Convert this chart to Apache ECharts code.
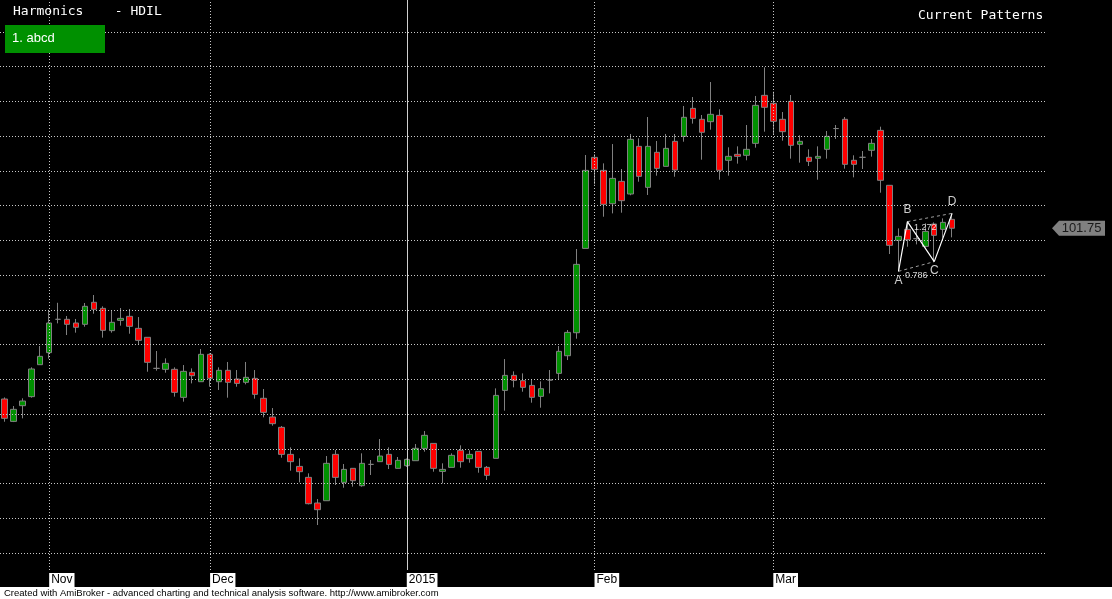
<!DOCTYPE html>
<html>
<head>
<meta charset="utf-8">
<script src="https://cdn.jsdelivr.net/npm/echarts@6/dist/echarts.min.js"></script>
<style>
html,body{margin:0;padding:0;background:#000;}
#chart{width:1112px;height:599px;}
</style>
</head>
<body>
<div id="chart"></div>
<script>
// ---------- data ----------
const dates = [
 '2014-10-27','2014-10-28','2014-10-29','2014-10-30','2014-10-31',
 '2014-11-03','2014-11-05','2014-11-07','2014-11-10','2014-11-11','2014-11-12','2014-11-13','2014-11-14','2014-11-17','2014-11-18','2014-11-19','2014-11-20','2014-11-21','2014-11-24','2014-11-25','2014-11-26','2014-11-27','2014-11-28',
 '2014-12-01','2014-12-02','2014-12-03','2014-12-04','2014-12-05','2014-12-08','2014-12-09','2014-12-10','2014-12-11','2014-12-12','2014-12-15','2014-12-16','2014-12-17','2014-12-18','2014-12-19','2014-12-22','2014-12-23','2014-12-24','2014-12-26','2014-12-29','2014-12-30','2014-12-31',
 '2015-01-01','2015-01-02','2015-01-05','2015-01-06','2015-01-07','2015-01-08','2015-01-09','2015-01-12','2015-01-13','2015-01-14','2015-01-15','2015-01-16','2015-01-19','2015-01-20','2015-01-21','2015-01-22','2015-01-23','2015-01-27','2015-01-28','2015-01-29','2015-01-30',
 '2015-02-02','2015-02-03','2015-02-04','2015-02-05','2015-02-06','2015-02-09','2015-02-10','2015-02-11','2015-02-12','2015-02-13','2015-02-16','2015-02-18','2015-02-19','2015-02-20','2015-02-23','2015-02-24','2015-02-25','2015-02-26','2015-02-27','2015-02-28',
 '2015-03-02','2015-03-03','2015-03-04','2015-03-05','2015-03-09','2015-03-10','2015-03-11','2015-03-12','2015-03-13','2015-03-16','2015-03-17','2015-03-18','2015-03-19','2015-03-20','2015-03-23','2015-03-24','2015-03-25','2015-03-26','2015-03-27','2015-03-30','2015-03-31'
];
const opens = [
 77.17,73.95,76.21,77.51,82.11,83.84,88.64,88.64,88.11,87.92,
 91.09,90.22,87.01,88.49,89.07,87.34,86.05,81.58,81.44,81.44,
 77.41,81.01,79.66,83.60,79.66,81.30,80.05,79.57,80.14,77.27,
 74.58,73.09,69.20,67.47,65.89,62.20,62.53,69.20,65.17,67.19,
 64.69,67.76,68.15,69.20,67.19,67.57,68.29,70.06,70.78,66.75,
 67.33,69.78,68.58,69.63,67.33,68.63,78.41,80.57,79.81,79.13,
 77.55,79.90,80.86,83.40,86.71,98.85,111.95,110.08,105.28,108.50,
 106.68,113.54,107.64,112.68,110.66,114.26,114.98,119.01,117.43,117.09,
 118.00,111.53,112.39,112.25,113.97,120.88,119.73,117.43,120.02,113.83,
 111.96,111.82,113.11,116.10,117.43,111.53,111.96,112.97,115.84,107.93,
 100.01,101.59,100.25,99.14,102.36,101.59,103.03
];
const closes = [
 74.39,75.68,76.88,81.49,83.31,88.11,88.64,87.92,87.49,90.51,
 90.08,87.05,88.21,88.78,87.63,85.61,82.45,81.58,82.30,78.13,
 81.15,80.53,83.60,80.14,81.30,79.57,79.42,80.29,77.84,75.25,
 73.62,69.20,68.15,66.71,62.10,61.24,67.91,65.89,67.04,65.41,
 67.91,67.76,68.96,67.76,68.34,68.48,70.07,71.94,67.19,67.04,
 69.06,68.15,69.20,67.33,66.18,77.69,80.57,79.85,78.85,77.41,
 78.65,79.90,84.03,86.76,96.55,110.08,110.23,105.19,108.93,105.72,
 114.55,109.22,113.54,110.37,113.25,110.13,117.72,117.57,115.56,118.15,
 110.09,112.10,112.10,113.11,119.44,119.16,117.14,115.65,113.69,114.26,
 111.38,112.10,114.98,116.10,110.95,110.95,111.96,113.97,108.65,99.29,
 100.58,100.10,100.25,101.30,100.73,102.60,101.75
];
const lows = [
 73.90,73.85,74.39,77.36,82.11,82.98,88.06,86.38,86.72,87.58,
 89.45,86.00,86.72,87.73,86.57,85.09,81.10,81.25,80.96,77.51,
 76.79,79.42,79.66,78.94,78.47,77.36,78.94,79.28,77.22,74.53,
 73.33,68.72,66.85,65.17,62.00,59.03,62.53,64.79,64.40,64.55,
 64.55,66.23,68.15,67.09,67.19,67.40,68.29,69.59,66.71,65.03,
 67.33,67.28,68.00,66.56,65.51,68.63,75.49,78.85,78.22,76.64,
 75.92,77.98,80.00,82.78,85.85,98.85,108.07,103.41,103.89,103.99,
 106.50,108.45,106.54,109.32,110.66,109.17,114.21,116.81,111.62,115.94,
 108.74,109.32,111.05,111.53,113.35,115.65,115.27,114.36,111.77,111.19,
 110.71,108.74,111.77,114.60,110.33,109.08,110.28,112.06,106.87,98.04,
 95.55,99.09,99.43,99.00,96.94,100.39,100.44
];
const highs = [
 77.40,76.16,77.27,81.73,84.80,90.00,91.02,89.12,88.69,90.99,
 92.14,90.51,89.84,90.27,90.13,88.97,86.05,84.08,83.02,81.73,
 82.06,81.58,84.37,83.74,81.73,82.50,81.34,82.50,81.34,78.61,
 75.87,73.28,70.21,68.63,66.47,62.77,68.96,69.83,67.81,67.19,
 69.35,68.39,71.41,70.21,68.82,68.60,70.69,72.56,70.78,67.91,
 69.35,70.50,69.78,69.63,67.52,78.70,82.92,81.15,80.86,80.00,
 79.71,81.34,84.80,87.10,98.76,112.29,112.40,111.09,113.87,110.28,
 115.32,114.69,117.76,114.31,115.32,115.32,119.35,120.64,118.05,122.80,
 118.87,113.40,113.54,116.61,120.79,124.91,121.41,118.48,120.93,115.13,
 113.11,113.54,115.75,116.61,117.76,112.25,112.87,114.60,116.37,107.93,
 101.73,102.70,101.88,102.46,102.60,103.17,103.89
];
const gridLevels = [55,60,65,70,75,80,85,90,95,100,105,110,115,120,125,130];
const monthStarts = ['2014-11-03','2014-12-01','2015-01-01','2015-02-02','2015-03-02'];
const monthLabels = ['Nov','Dec','2015','Feb','Mar'];
const yearStart = '2015-01-01';
const lastPrice = 101.75;
const patternIdx = [100,101,104,106];
const patternPrice = [95.55,102.70,96.94,103.89];
const patternNames = ['A','B','C','D'];
const ratioText = ['0.786','1.272'];
const ratioIdx = [102,103];
const ratioPrice = [94.92,101.89];
const padCount = 10;

// ---------- build ----------
const cats = dates.slice();
for (let i = 0; i < padCount; i++) cats.push('pad' + i);
const ohlc = opens.map((o, i) => [o, closes[i], lows[i], highs[i]]);

const dotted = {color:'#c8c8c8', width:1, type:[1,2]};
const hLines = gridLevels.map(v => ({yAxis: v, lineStyle: dotted}));
const vLines = monthStarts.map(d => ({
  xAxis: d,
  lineStyle: d === yearStart ? {color:'#d0d0d0', width:1, type:'solid'} : dotted
}));

const chart = echarts.init(document.getElementById('chart'), null, {renderer:'canvas'});
chart.setOption({
  backgroundColor:'#000',
  animation:false,
  grid:{left:0, right:66, top:0, bottom:29, containLabel:false},
  xAxis:{
    type:'category', data:cats, boundaryGap:true,
    axisLine:{show:false}, axisTick:{show:false}, splitLine:{show:false},
    axisLabel:{
      interval:function(idx, val){ return monthStarts.indexOf(val) >= 0; },
      formatter:function(val){ const k = monthStarts.indexOf(val); return k >= 0 ? monthLabels[k] : ''; },
      color:'#000', backgroundColor:'#fff', fontFamily:'Liberation Sans, Arial', fontSize:12,
      lineHeight:14, padding:[0,2,0,2], margin:3, align:'left'
    }
  },
  yAxis:{
    type:'value', min:52.556, max:134.606, show:false, scale:true,
    splitLine:{show:false}
  },
  series:[
    {
      type:'line', data:[], z:1, silent:true,
      markLine:{silent:true, symbol:'none', label:{show:false}, animation:false,
        data: hLines.concat(vLines)}
    },
    {
      type:'candlestick', data:ohlc, barWidth:6, z:3,
      itemStyle:{color:'#009000', color0:'#ff0000', borderColor:'#808080', borderColor0:'#808080', borderColorDoji:'#808080', borderWidth:1},
      markPoint:{
        silent:true, animation:false,
        data:[{
          coord:[cats.length-1, lastPrice],
          symbol:'path://M0,7.5 L7,0 L53,0 L53,15 L7,15 Z',
          symbolSize:[53,15], symbolKeepAspect:false, symbolOffset:[37,0],
          itemStyle:{color:'#808080'},
          label:{show:true, position:'inside', offset:[3,0], formatter:String(lastPrice),
            color:'#1a1a1a', fontFamily:'Liberation Sans, Arial', fontSize:13}
        }]
      }
    },
    {
      type:'line', z:5, silent:true, symbol:'none',
      data: patternIdx.map((x,i)=>[x, patternPrice[i]]),
      lineStyle:{color:'#ffffff', width:1.2}
    },
    {
      type:'line', z:4, silent:true, symbol:'none',
      data:[[patternIdx[0],patternPrice[0]],[patternIdx[2],patternPrice[2]]],
      lineStyle:{color:'#a0a0a0', width:1, type:[3,3]}
    },
    {
      type:'line', z:4, silent:true, symbol:'none',
      data:[[patternIdx[1],patternPrice[1]],[patternIdx[3],patternPrice[3]]],
      lineStyle:{color:'#a0a0a0', width:1, type:[3,3]}
    },
    {
      type:'scatter', z:6, silent:true, symbolSize:0,
      data: patternIdx.map((x,i)=>({value:[x, patternPrice[i]], name:patternNames[i],
        label:{position:(i % 2 === 0) ? 'bottom' : 'top', distance:(i%2===0)?3:6}})),
      label:{show:true, formatter:'{b}', color:'#fff', fontFamily:'Liberation Sans, Arial', fontSize:12}
    },
    {
      type:'scatter', z:6, silent:true, symbolSize:0,
      data: ratioIdx.map((x,i)=>({value:[x, ratioPrice[i]], name:ratioText[i]})),
      label:{show:true, position:'inside', formatter:'{b}', color:'#fff', fontFamily:'Liberation Sans, Arial', fontSize:9}
    }
  ],
  graphic:[
    {type:'rect', z:100, shape:{x:0, y:587, width:1112, height:12}, style:{fill:'#fff'}},
    {type:'text', z:101, left:4, top:588, style:{text:'Created with AmiBroker - advanced charting and technical analysis software. http://www.amibroker.com', fill:'#000', font:'9.5px "Liberation Sans", Arial'}},
    {type:'text', z:101, left:13, top:5, style:{text:'Harmonics    - HDIL', fill:'#fff', font:'13px "DejaVu Sans Mono", monospace'}},
    {type:'text', z:101, left:918, top:9, style:{text:'Current Patterns', fill:'#fff', font:'13px "DejaVu Sans Mono", monospace'}},
    {type:'rect', z:100, shape:{x:5, y:25, width:100, height:28}, style:{fill:'#009000'}},
    {type:'text', z:101, left:12, top:32, style:{text:'1. abcd', fill:'#fff', font:'13px "Liberation Sans", Arial'}}
  ]
});
</script>
</body>
</html>
